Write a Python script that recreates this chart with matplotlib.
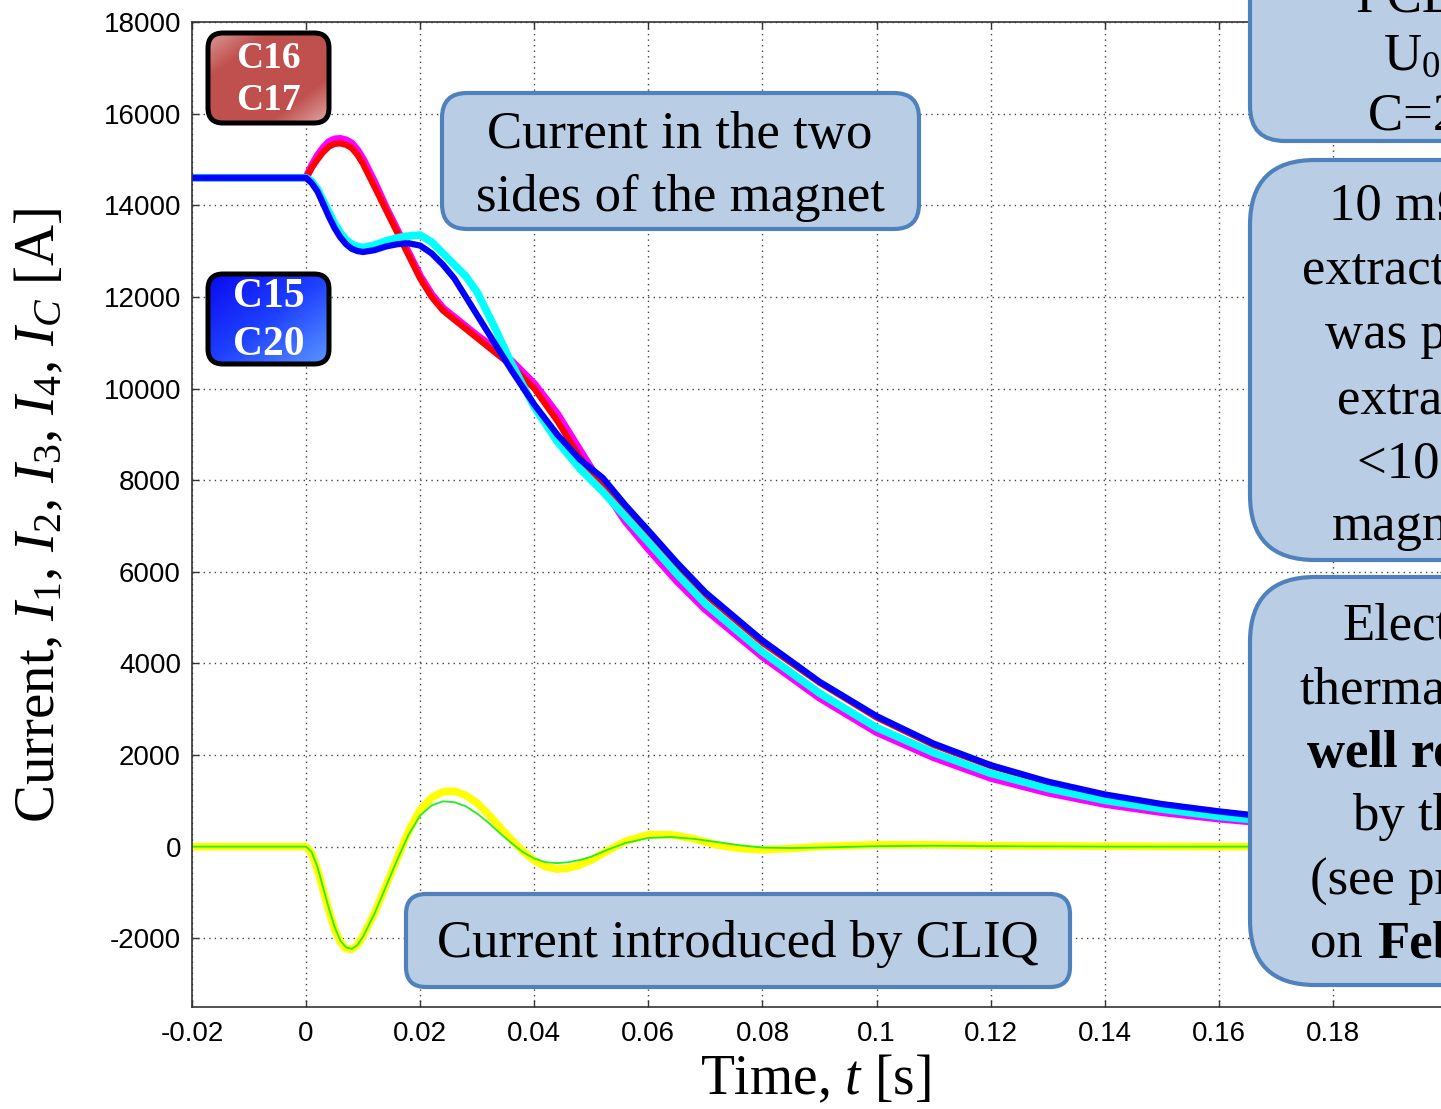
import numpy as np
import matplotlib.pyplot as plt
from matplotlib.patches import FancyBboxPatch
from matplotlib.colors import LinearSegmentedColormap

W, H = 1441, 1109  # output size in pixels

# measured currents [A] vs time [s]
t_main = [-0.02, 0.0, 0.001, 0.002, 0.003, 0.004, 0.005, 0.006, 0.007, 0.008,
          0.009, 0.010, 0.012, 0.014, 0.016, 0.018, 0.020, 0.022, 0.024, 0.026,
          0.028, 0.030, 0.033, 0.036, 0.040, 0.044, 0.048, 0.052, 0.056, 0.060,
          0.065, 0.070, 0.080, 0.090, 0.100, 0.110, 0.120, 0.130, 0.140, 0.150,
          0.160, 0.170, 0.185, 0.200]
i_red = [14600, 14600, 14820, 15000, 15160, 15280, 15340, 15350, 15320, 15250,
         15100, 14900, 14400, 13900, 13400, 12900, 12400, 12000, 11700, 11500,
         11300, 11100, 10800, 10500, 10000, 9300, 8500, 7850, 7250, 6750,
         6100, 5500, 4450, 3580, 2820, 2220, 1760, 1400, 1120, 920,
         760, 620, 480, 380]
i_magenta = [14600, 14600, 14860, 15080, 15250, 15380, 15440, 15450, 15420, 15350,
             15200, 15000, 14500, 13950, 13450, 12950, 12450, 12050, 11750, 11550,
             11350, 11150, 10880, 10600, 10100, 9450, 8650, 7850, 7100, 6500,
             5800, 5180, 4150, 3250, 2500, 1950, 1500, 1180, 930, 750,
             610, 500, 380, 290]
i_cyan = [14600, 14600, 14520, 14350, 14100, 13850, 13600, 13400, 13250, 13150,
          13100, 13080, 13130, 13220, 13290, 13330, 13350, 13200, 12950, 12700,
          12450, 12100, 11350, 10550, 9600, 8850, 8250, 7750, 7200, 6650,
          5950, 5300, 4250, 3350, 2600, 2050, 1600, 1270, 1010, 820,
          660, 540, 410, 310]
i_blue = [14600, 14600, 14480, 14300, 14030, 13750, 13500, 13300, 13150, 13050,
          13000, 12980, 13020, 13100, 13150, 13170, 13120, 12950, 12700, 12400,
          12000, 11600, 11000, 10400, 9650, 9000, 8450, 8050, 7450, 6900,
          6200, 5550, 4500, 3600, 2850, 2250, 1780, 1420, 1140, 930,
          770, 630, 490, 390]

# CLIQ current: measured (yellow) and simulated (green)
t_cliq = [-0.02, 0.0, 0.001, 0.002, 0.003, 0.004, 0.005, 0.006, 0.007, 0.008,
          0.009, 0.010, 0.012, 0.014, 0.016, 0.018, 0.020, 0.022, 0.024, 0.026,
          0.028, 0.030, 0.032, 0.034, 0.036, 0.038, 0.040, 0.042, 0.044, 0.046,
          0.048, 0.050, 0.053, 0.056, 0.060, 0.064, 0.068, 0.072, 0.076, 0.080,
          0.085, 0.090, 0.100, 0.110, 0.120, 0.140, 0.160, 0.180, 0.200]
i_yellow = [0, 0, -150, -500, -950, -1400, -1800, -2080, -2230, -2240,
            -2150, -1950, -1450, -850, -250, 350, 800, 1070, 1200, 1210,
            1120, 950, 700, 420, 150, -100, -300, -440, -490, -470,
            -400, -290, -80, 120, 260, 260, 170, 40, -40, -70,
            -40, 0, 40, 40, 20, 10, 0, 0, 0]
i_green = [0, 0, -120, -450, -900, -1350, -1750, -2050, -2200, -2230,
           -2150, -1960, -1460, -870, -280, 270, 680, 900, 990, 970,
           880, 720, 520, 290, 80, -120, -260, -340, -360, -340,
           -290, -220, -60, 80, 190, 210, 170, 100, 30, -20,
           -30, -20, 10, 20, 10, 0, 0, 0, 0]

x_ticks = [-0.02, 0, 0.02, 0.04, 0.06, 0.08, 0.1, 0.12, 0.14, 0.16, 0.18]
y_ticks = [-2000, 0, 2000, 4000, 6000, 8000, 10000, 12000, 14000, 16000, 18000]

plt.rcParams['axes.unicode_minus'] = False
plt.rcParams['mathtext.fontset'] = 'custom'
plt.rcParams['mathtext.rm'] = 'Liberation Serif'
plt.rcParams['mathtext.it'] = 'Liberation Serif:italic'
plt.rcParams['mathtext.bf'] = 'Liberation Serif:bold'

fig = plt.figure(figsize=(W / 100, H / 100), dpi=100)
ax = fig.add_axes([192 / W, (H - 1007) / H, (1447 - 192) / W, (1007 - 22) / H])

ax.plot(t_main, i_magenta, color='#FF00FF', lw=5.5, solid_capstyle='butt')
ax.plot(t_main, i_red, color='#FF0000', lw=4.5, solid_capstyle='butt')
ax.plot(t_main, i_cyan, color='#00FFFF', lw=5.5, solid_capstyle='butt')
ax.plot(t_main, i_blue, color='#0000FF', lw=4.5, solid_capstyle='butt')
ax.plot(t_cliq, i_yellow, color='#FFFF00', lw=5.5, solid_capstyle='butt')
ax.plot(t_cliq, i_green, color='#22EE22', lw=1.3)

ax.set_xlim(-0.02, 0.2)
ax.set_ylim(-3500, 18000)
ax.set_xticks(x_ticks)
ax.set_xticklabels([f'{v:g}' for v in x_ticks])
ax.set_yticks(y_ticks)
ax.set_yticklabels([f'{v:g}' for v in y_ticks])
ax.tick_params(direction='in', length=5, width=1, color='#333333',
               top=True, right=True, labelsize=20)
ax.tick_params(axis='y', pad=8)
ax.tick_params(axis='x', pad=10)
for lab in ax.get_xticklabels() + ax.get_yticklabels():
    lab.set_family('Liberation Sans')
ax.grid(True, linestyle=(0, (1, 3)), color='#444444', lw=1)
for sp in ax.spines.values():
    sp.set_color('#333333')
    sp.set_linewidth(1.2)

# overlay in pixel coordinates (origin top-left) for the annotation boxes
ov = fig.add_axes([0, 0, 1, 1])
ov.axis('off')
ov.set_zorder(5)

serif = 'Liberation Serif'
fill_c, edge_c = '#B9CDE5', '#4F81BD'


def note_box(x0, y0, w, h, r):
    ov.add_patch(FancyBboxPatch((x0, y0), w, h,
                                boxstyle=f'round,pad=0,rounding_size={r}',
                                fc=fill_c, ec=edge_c, lw=3, zorder=2))


def grad_box(x0, y0, w, h, colors, lines, size, ys):
    box = FancyBboxPatch((x0, y0), w, h, boxstyle='round,pad=0,rounding_size=15',
                         fc='none', ec='black', lw=3.6, zorder=4)
    ov.add_patch(box)
    g = np.linspace(0, 1, 80)
    grid = (g[None, :] + g[:, None]) / 2
    cmap = LinearSegmentedColormap.from_list('g', colors)
    im = ov.imshow(grid, cmap=cmap, extent=(x0, x0 + w, y0 + h, y0),
                   aspect='auto', interpolation='bilinear', zorder=3)
    im.set_clip_path(box)
    for s, y in zip(lines, ys):
        ov.text(x0 + w / 2, y, s, ha='center', va='center', color='white',
                family=serif, fontweight='bold', size=size, zorder=5)


grad_box(208, 33, 121, 90, ['#DC9896', '#C0504D', '#C0504D', '#C0504D', '#E0A8A6'],
         ['C16', 'C17'], 27, [58, 101])
grad_box(208, 274, 121, 90, ['#0A0AF0', '#1E40FF', '#5A96FF'],
         ['C15', 'C20'], 30, [297, 345])

note_box(442, 93, 477, 136, 25)
ov.text(680, 135, 'Current in the two', ha='center', va='center', family=serif, size=38)
ov.text(680, 198, 'sides of the magnet', ha='center', va='center', family=serif, size=38)

note_box(406, 894, 664, 93, 20)
ov.text(738, 944, 'Current introduced by CLIQ', ha='center', va='center',
        family=serif, size=38)

# boxes running off the right edge
note_box(1250, -120, 420, 261, 35)
note_box(1250, 160, 420, 400, 65)
note_box(1250, 577, 420, 408, 65)

right_lines = [
    (1356, -2, 'I CLIQ', 'normal'),
    (1383, 57, r'U$_0$=500 V', 'normal'),
    (1368, 117, 'C=28 mF', 'normal'),
    (1329, 207, '10 mΩ', 'normal'),
    (1302, 270, 'extraction', 'normal'),
    (1325, 335, 'was performed', 'normal'),
    (1337, 400, 'extraction', 'normal'),
    (1357, 464, '<100 ms', 'normal'),
    (1332, 527, 'magnet', 'normal'),
    (1342, 627, 'Electro-', 'normal'),
    (1299, 690, 'thermal', 'normal'),
    (1307, 754, 'well reproduced', 'bold'),
    (1352, 817, 'by the', 'normal'),
    (1310, 882, '(see presentation', 'normal'),
    (1310, 944, 'on', 'normal'),
    (1377, 944, 'Feb', 'bold'),
]
for x, y, s, wt in right_lines:
    ov.text(x, y, s, ha='left', va='center', family=serif, size=38, fontweight=wt)

ov.text(40, 515, r'Current, $I_{\mathit{1}}$, $I_{\mathit{2}}$, $I_{\mathit{3}}$, '
        r'$I_{\mathit{4}}$, $I_C$ [A]', rotation=90,
        ha='center', va='center', family=serif, size=41)
ov.text(815, 1080, r'Time, $t$ [s]', ha='center', va='center', family=serif, size=40)

ov.set_xlim(0, W)
ov.set_ylim(H, 0)

fig.savefig('out.png', dpi=100)
